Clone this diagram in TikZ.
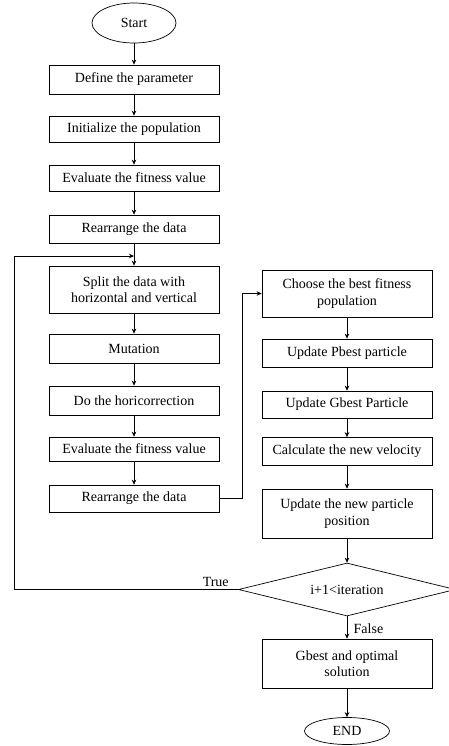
\documentclass[tikz,border=0pt]{standalone}
\usepackage{fontspec}
\setmainfont{Liberation Serif}
\usepackage{tikz}
\usetikzlibrary{shapes.geometric, arrows, positioning}
\usetikzlibrary{arrows.meta}
\tikzstyle{startstop} = [ellipse, draw=black, line width=0.7pt, inner sep=0pt, text centered]
\tikzstyle{process} = [rectangle, draw=black, line width=0.7pt, minimum width=170pt, text centered, align=center, inner sep=2pt]
\tikzstyle{decision} = [diamond, draw=black, line width=0.7pt, aspect=4, inner sep=0pt, minimum width=217pt, minimum height=53pt]
\tikzstyle{arrow} = [line width=0.7pt,-{Stealth[length=5pt,width=4.5pt]}]
\tikzstyle{line} = [line width=0.7pt]

\begin{document}
\begin{tikzpicture}[x=1pt,y=-1pt,font=\fontsize{14}{16.5}\selectfont]
\useasboundingbox (0,0) rectangle (449,746);

% left column
\node[startstop, minimum width=84pt, minimum height=40pt] (start) at (134,23) {Start};
\node[process, minimum height=29pt] (define) at (134,79.5) {Define the parameter};
\node[process, minimum height=26pt] (init) at (134,129) {Initialize the population};
\node[process, minimum height=26pt] (evalA) at (134,178) {Evaluate the fitness value};
\node[process, minimum height=28pt] (rearrA) at (134,229) {Rearrange the data};
\node[process, minimum height=47pt] (split) at (134,289.5) {Split the data with\\horizontal and vertical};
\node[process, minimum height=29pt] (mutation) at (134,348.5) {Mutation};
\node[process, minimum height=29pt] (horic) at (134,400.5) {Do the horicorrection};
\node[process, minimum height=24pt] (evalB) at (134,449) {Evaluate the fitness value};
\node[process, minimum height=27pt] (rearrB) at (134,498.5) {Rearrange the data};

% right column
\node[process, minimum height=47pt] (choose) at (347,293.5) {Choose the best fitness\\population};
\node[process, minimum height=28pt] (pbest) at (347,353) {Update Pbest particle};
\node[process, minimum height=27pt] (gbest) at (347,404.5) {Update Gbest Particle};
\node[process, minimum height=28pt] (velocity) at (347,451.5) {Calculate the new velocity};
\node[process, minimum height=49pt] (position) at (347,513.5) {Update the new particle\\position};
\node[decision] (cond) at (347,589.5) {i+1<iteration};
\node[process, minimum height=49pt] (optimal) at (347,663.5) {Gbest and optimal\\solution};
\node[startstop, minimum width=85pt, minimum height=27pt] (stop) at (347,731) {END};

\coordinate (join) at (134,256);

\draw[arrow] (start) -- (define);
\draw[arrow] (define) -- (init);
\draw[arrow] (init) -- (evalA);
\draw[arrow] (evalA) -- (rearrA);
\draw[arrow] (rearrA) -- (split);
\draw[arrow] (split) -- (mutation);
\draw[arrow] (mutation) -- (horic);
\draw[arrow] (horic) -- (evalB);
\draw[arrow] (evalB) -- (rearrB);
\draw[arrow] (rearrB.east) -- ++(23,0) |- (choose.west);
\draw[arrow] (choose) -- (pbest);
\draw[arrow] (pbest) -- (gbest);
\draw[arrow] (gbest) -- (velocity);
\draw[arrow] (velocity) -- (position);
\draw[arrow] (position) -- (cond);
\draw[arrow] (cond) -- node[right, xshift=3pt, yshift=-1pt] (nofalse) {False} (optimal);
\draw[arrow] (optimal) -- (stop);

% loop back
\draw[arrow] (cond.west) -- node[above, pos=0.1, yshift=-1pt] (yestrue) {True} (14,589.5) -- (14,256) -- (join);
\end{tikzpicture}
\end{document}
